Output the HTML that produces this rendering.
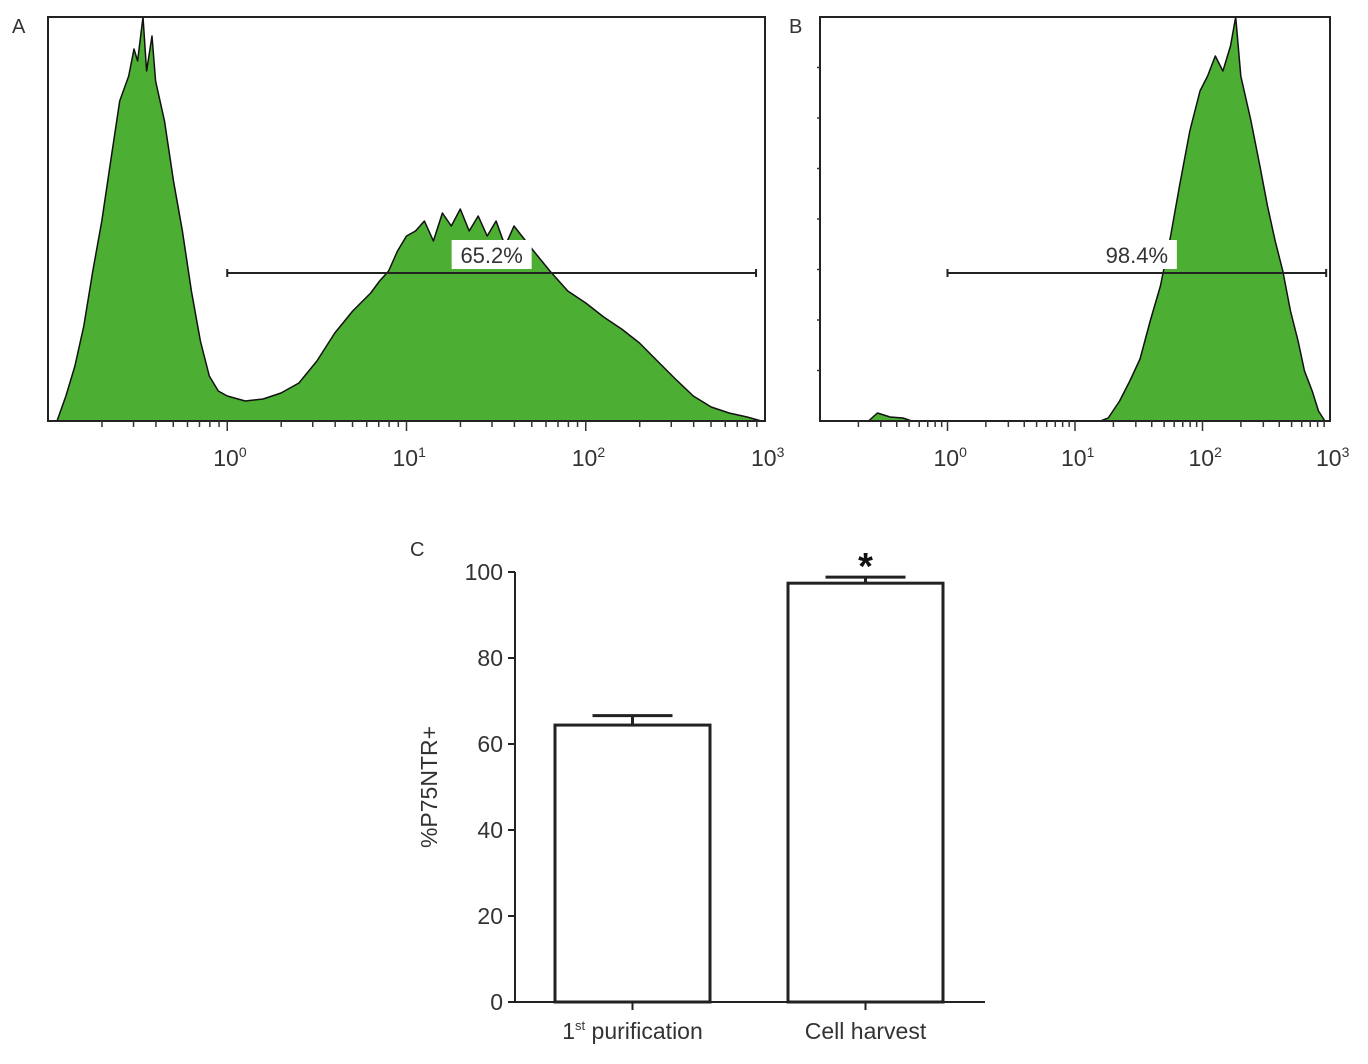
<!DOCTYPE html>
<html><head><meta charset="utf-8"><style>
html,body{margin:0;padding:0;background:#fff;}
svg{display:block;font-family:"Liberation Sans",Arial,sans-serif;}
</style></head><body>
<svg id="fig" width="1368" height="1064" viewBox="0 0 1368 1064">
<text x="12" y="33" font-size="20" fill="#333">A</text>
<text x="789" y="33" font-size="20" fill="#333">B</text>
<text x="410" y="556" font-size="20" fill="#333">C</text>
<g id="pa"></g>
<g id="pb"></g>
<g id="pc"></g>
</svg>
<script>
// Panel A histogram (log10 intensity, counts)
const logsA=[-0.95,-0.9,-0.85,-0.8,-0.75,-0.7,-0.65,-0.6,-0.55,-0.52,-0.5,-0.47,-0.45,-0.42,-0.4,-0.35,-0.3,-0.25,-0.2,-0.15,-0.1,-0.05,0.0,0.1,0.2,0.3,0.4,0.5,0.6,0.7,0.8,0.85,0.9,0.95,1.0,1.05,1.1,1.15,1.2,1.25,1.3,1.35,1.4,1.45,1.5,1.55,1.6,1.7,1.8,1.9,2.0,2.1,2.2,2.3,2.4,2.5,2.6,2.7,2.8,2.9,2.98];
const countsA=[0,25,55,95,150,200,260,320,345,372,360,404,350,385,340,300,240,190,130,80,45,30,25,20,22,28,38,60,88,110,128,140,150,170,185,190,200,180,208,195,212,190,205,185,200,175,195,172,150,130,118,104,92,78,60,42,25,14,8,4,0];
const gateA={from:0,to:2.95,label:"65.2%"};
// Panel B histogram
const logsB=[-0.62,-0.55,-0.45,-0.35,-0.28,1.2,1.26,1.35,1.43,1.51,1.59,1.67,1.75,1.82,1.9,1.98,2.04,2.1,2.16,2.22,2.26,2.3,2.38,2.45,2.51,2.57,2.63,2.69,2.75,2.8,2.86,2.91,2.96];
const countsB=[0,8,4,3,0,0,3,20,40,62,100,135,185,235,290,330,345,365,350,375,404,345,300,255,215,180,150,110,80,50,30,10,0];
const gateB={from:0,to:2.97,label:"98.4%"};
const decadeLabels=["10","10","10","10"];
const decadeExps=["0","1","2","3"];
// Panel C bars
const barCats=["1st purification","Cell harvest"];
const barVals=[64.4,97.4];
const barErrs=[2.2,1.4];
const yTicksC=[0,20,40,60,80,100];

const NS="http://www.w3.org/2000/svg";
function mk(tag,attrs,parent){const e=document.createElementNS(NS,tag);for(const k in attrs)e.setAttribute(k,attrs[k]);parent.appendChild(e);return e;}

function histogram(g,box,logs,counts,gate,yTickCount,prefix){
  const xs=L=>box.x0+(L+1)/4*(box.x1-box.x0);
  const ys=c=>box.y1-c/404*(box.y1-box.y0);
  let d="M"+xs(logs[0])+","+box.y1;
  for(let i=0;i<logs.length;i++)d+=" L"+xs(logs[i]).toFixed(1)+","+ys(counts[i]).toFixed(1);
  d+=" L"+xs(logs[logs.length-1])+","+box.y1+" Z";
  const area=mk("path",{d:d,fill:"#4cae32",stroke:"#111","stroke-width":"1.5","stroke-linejoin":"round"},g);
  
  
  const fr=mk("rect",{x:box.x0,y:box.y0,width:box.x1-box.x0,height:box.y1-box.y0,fill:"none",stroke:"#222","stroke-width":"2"},g);
  
  
  for(let dec=-1;dec<3;dec++){
    for(let m=1;m<10;m++){
      const L=dec+Math.log10(m);
      const x=xs(L);const len=m===1?10:6;
      if(dec===-1&&m===1)continue;
      const t=mk("line",{x1:x,x2:x,y1:box.y1,y2:box.y1+len,stroke:"#333","stroke-width":"1.5"},g);
      
      
    }
  }
  for(let i=0;i<decadeLabels.length;i++){
    const x=xs(i);
    const tx=mk("text",{x:x-14,y:box.y1+45,"font-size":"23",fill:"#333"},g);
    tx.textContent=decadeLabels[i];
    const sp=mk("tspan",{dy:"-9","font-size":"14"},tx);sp.textContent=decadeExps[i];
    
    
  }
  for(let i=1;i<=yTickCount;i++){
    const y=box.y1-i*(box.y1-box.y0)/(yTickCount+1);
    const t=mk("line",{x1:box.x0-3,x2:box.x0,y1:y,y2:y,stroke:"#333","stroke-width":"1.5"},g);
    
    
  }
  const gy=273;
  const gx0=xs(gate.from),gx1=xs(gate.to);
  const gl=mk("path",{d:`M${gx0},${gy-4}V${gy+4}M${gx0},${gy}H${gx1}M${gx1},${gy-4}V${gy+4}`,stroke:"#222","stroke-width":"2",fill:"none"},g);
  
  
  const cx=(gx0+gx1)/2;
  const lb=mk("rect",{x:cx-40,y:gy-33,width:80,height:29,fill:"#fff"},g);
  
  
  const lt=mk("text",{x:cx,y:gy-10,"font-size":"22","text-anchor":"middle",fill:"#333"},g);
  lt.textContent=gate.label;
  
  
}
histogram(document.getElementById("pa"),{x0:48,x1:765,y0:17,y1:421},logsA,countsA,gateA,0,"a");
histogram(document.getElementById("pb"),{x0:820,x1:1330,y0:17,y1:421},logsB,countsB,gateB,7,"b");

(function(){
  const g=document.getElementById("pc");
  const ax={x0:515,x1:985,y0:572,y1:1002};
  const ys=v=>ax.y1-v/100*(ax.y1-ax.y0);
  const centers=[632.5,865.5];const bw=155;
  const yl=mk("line",{x1:ax.x0,x2:ax.x0,y1:ax.y0,y2:ax.y1,stroke:"#222","stroke-width":"2"},g);
  
  const xl=mk("line",{x1:ax.x0-6,x2:ax.x1,y1:ax.y1,y2:ax.y1,stroke:"#222","stroke-width":"2"},g);
  
  yTicksC.forEach(v=>{
    const y=ys(v);
    const t=mk("line",{x1:ax.x0-7,x2:ax.x0,y1:y,y2:y,stroke:"#222","stroke-width":"2"},g);
    
    const tx=mk("text",{x:ax.x0-12,y:y+8,"font-size":"23","text-anchor":"end",fill:"#333"},g);
    tx.textContent=v;
    
  });
  const yt=mk("text",{x:0,y:0,"font-size":"23","text-anchor":"middle",fill:"#333",transform:"translate(437,787) rotate(-90)"},g);
  yt.textContent="%P75NTR+";
  
  barVals.forEach((v,i)=>{
    const c=centers[i];
    const e=mk("path",{d:`M${c},${ys(v)}V${ys(v+barErrs[i])}M${c-40},${ys(v+barErrs[i])}H${c+40}`,stroke:"#222","stroke-width":"3",fill:"none"},g);
    
    const r=mk("rect",{x:c-bw/2,y:ys(v),width:bw,height:ax.y1-ys(v),fill:"#fff",stroke:"#222","stroke-width":"3"},g);
    
    const t=mk("line",{x1:c,x2:c,y1:ax.y1,y2:ax.y1+8,stroke:"#222","stroke-width":"2"},g);
    
    const lbl=mk("text",{x:c,y:1039,"font-size":"23","text-anchor":"middle",fill:"#333"},g);
    if(barCats[i].startsWith("1st")){
      lbl.textContent="1";
      const s=mk("tspan",{dy:"-9","font-size":"13"},lbl);s.textContent="st";
      const r2=mk("tspan",{dy:"9"},lbl);r2.textContent=" purification";
    } else lbl.textContent=barCats[i];
    
  });
  const st=mk("text",{x:centers[1],y:579,"font-size":"38","font-weight":"bold","text-anchor":"middle",fill:"#111"},g);
  st.textContent="*";
  
})();
</script>
</body></html>
